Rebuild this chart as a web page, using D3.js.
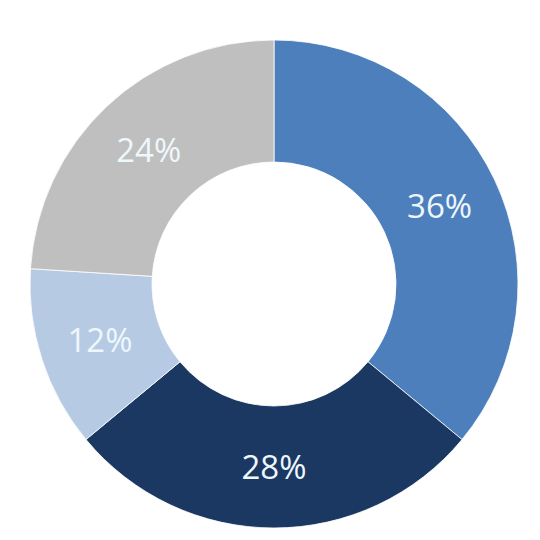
<!DOCTYPE html>
<html lang="en">
<head>
  <meta charset="UTF-8">
  <title>Donut</title>
  <script src="https://d3js.org/d3.v7.min.js"></script>
  <style>
    html, body { margin: 0; padding: 0; background: #fff; }
    .label { font-family: 'Open Sans', 'Noto Sans', sans-serif; font-size: 33px; fill: #eef7fc; }
  </style>
</head>
<body>
  <svg width="540" height="540"></svg>
  <script>
    const categories = ["A", "B", "C", "D"];
    const values = [36, 28, 12, 24];
    const colors = ["#4d7fbd", "#1b3862", "#b6cae4", "#bfbfbf"];

    const cx = 274, cy = 284, outerR = 244, innerR = 122;

    const svg = d3.select("svg");
    const g = svg.append("g").attr("transform", `translate(${cx},${cy})`);

    const pie = d3.pie().value(d => d.v).sort(null);
    const arcs = pie(categories.map((c, i) => ({ c, v: values[i], col: colors[i] })));

    const arc = d3.arc().innerRadius(innerR).outerRadius(outerR);
    const labelArc = d3.arc().innerRadius(183).outerRadius(183);

    g.selectAll("path")
      .data(arcs)
      .join("path")
      .attr("d", arc)
      .attr("fill", d => d.data.col)
      .attr("stroke", "#fff")
      .attr("stroke-width", 0.8);

    g.selectAll("text.label")
      .data(arcs)
      .join("text")
      .attr("class", "label")
      .attr("transform", d => `translate(${labelArc.centroid(d)})`)
      .attr("text-anchor", "middle")
      .attr("dy", "0.36em")
      .text(d => d.data.v + "%");
  </script>
</body>
</html>
